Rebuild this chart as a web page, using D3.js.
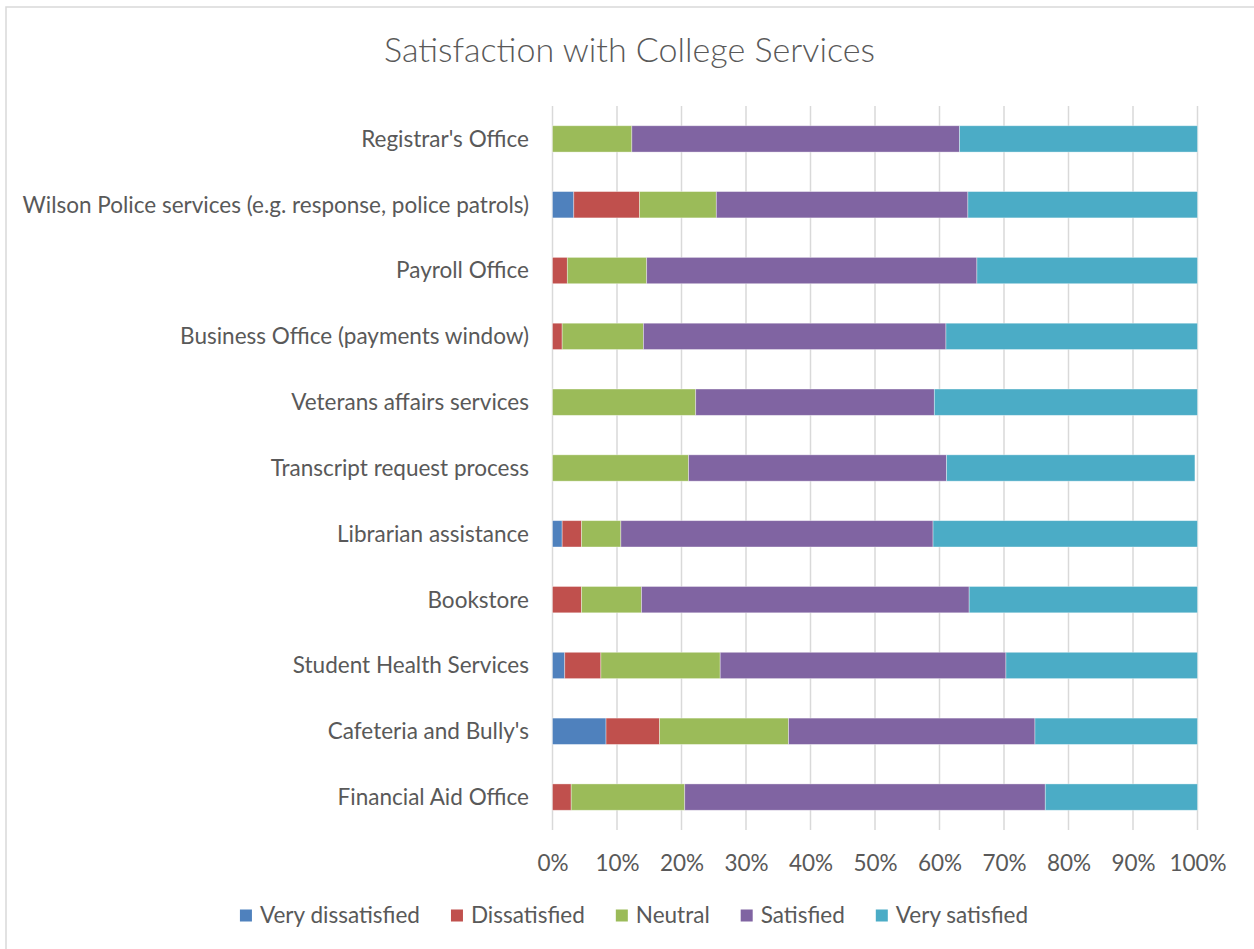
<!DOCTYPE html>
<html>
<head>
<meta charset="utf-8">
<script src="https://cdn.jsdelivr.net/npm/d3@7"></script>
<style>
  html, body { margin: 0; padding: 0; background: #fff; }
  svg { display: block; }
  text { font-family: Lato, "Open Sans", sans-serif; fill: #595959; }
</style>
</head>
<body>
<svg id="chart" width="1254" height="949"></svg>
<script>
const categories = [
  "Registrar's Office",
  "Wilson Police services (e.g. response, police patrols)",
  "Payroll Office",
  "Business Office (payments window)",
  "Veterans affairs services",
  "Transcript request process",
  "Librarian assistance",
  "Bookstore",
  "Student Health Services",
  "Cafeteria and Bully's",
  "Financial Aid Office"
];
const seriesNames = ["Very dissatisfied", "Dissatisfied", "Neutral", "Satisfied", "Very satisfied"];
const veryDissatisfied = [0, 3.3, 0, 0, 0, 0, 1.5, 0, 1.9, 8.3, 0];
const dissatisfied     = [0, 10.2, 2.3, 1.5, 0, 0, 3.0, 4.5, 5.6, 8.3, 2.9];
const neutral          = [12.3, 11.9, 12.3, 12.6, 22.2, 21.1, 6.1, 9.3, 18.5, 20.0, 17.6];
const satisfied        = [50.8, 39.0, 51.2, 46.9, 37.0, 40.0, 48.4, 50.8, 44.3, 38.2, 55.9];
const verySatisfied    = [36.9, 35.6, 34.2, 39.0, 40.8, 38.5, 41.0, 35.4, 29.7, 25.2, 23.6];
const tickValues = [0, 0.1, 0.2, 0.3, 0.4, 0.5, 0.6, 0.7, 0.8, 0.9, 1.0];
const colors = ["#4F81BD", "#C0504D", "#9BBB59", "#8064A2", "#4BACC6"];
const title = "Satisfaction with College Services";

const seriesValues = [veryDissatisfied, dissatisfied, neutral, satisfied, verySatisfied];
const rows = categories.map((c, i) => {
  const r = { category: c };
  seriesNames.forEach((s, j) => { r[s] = seriesValues[j][i] / 100; });
  return r;
});

const svg = d3.select("#chart");

// chart frame
svg.append("rect")
  .attr("x", 6).attr("y", 7).attr("width", 1260).attr("height", 960)
  .attr("fill", "#fff").attr("stroke", "#d9d9d9").attr("stroke-width", 1.5);

// font fitting (Calibri substitute): match widths seen in the reference
function fitSize(str, base, target) {
  const p = svg.append("text").attr("font-size", base).text(str);
  const w = p.node().getComputedTextLength();
  p.remove();
  return base * target / w;
}
const fs = fitSize(categories[1], 24, 507);
const titleFs = fitSize(title, 32, 501);

const x = d3.scaleLinear().domain([0, 1]).range([552.5, 1197.5]);
const y = d3.scaleBand().domain(categories).range([106, 830])
  .paddingInner(0.6).paddingOuter(0.3);

// gridlines
svg.append("g")
  .selectAll("line").data(tickValues).join("line")
  .attr("x1", d => x(d)).attr("x2", d => x(d))
  .attr("y1", 106).attr("y2", 830)
  .attr("stroke", "#d9d9d9").attr("stroke-width", 1.5);

// bars
const stack = d3.stack().keys(seriesNames);
const stacked = stack(rows);
svg.append("g")
  .selectAll("g").data(stacked).join("g")
  .attr("fill", (d, i) => colors[i])
  .selectAll("rect").data(d => d).join("rect")
  .filter(d => d[1] - d[0] > 0)
  .attr("x", d => x(d[0]))
  .attr("y", d => y(d.data.category))
  .attr("width", d => x(d[1]) - x(d[0]))
  .attr("height", y.bandwidth())
  .attr("stroke", "#fff").attr("stroke-opacity", 0.45).attr("stroke-width", 0.8);

// category labels (axis without lines)
const yAxis = svg.append("g")
  .attr("transform", `translate(${x(0) - 23.5},0)`)
  .call(d3.axisLeft(y).tickSize(0).tickPadding(0));
yAxis.select(".domain").remove();
yAxis.selectAll("text")
  .attr("font-size", fs).attr("font-family", null)
  .attr("fill", "#595959").attr("dy", "0.35em");

// x axis tick labels
const xAxis = svg.append("g")
  .attr("transform", `translate(0,863)`)
  .call(d3.axisBottom(x).tickValues(tickValues).tickFormat(d3.format(".0%")).tickSize(0).tickPadding(0));
xAxis.select(".domain").remove();
xAxis.selectAll("text")
  .attr("font-size", fs).attr("font-family", null)
  .attr("fill", "#595959").attr("dy", "0.35em");

// title
svg.append("text")
  .attr("x", 629.5).attr("y", 50).attr("dy", "0.35em")
  .attr("text-anchor", "middle")
  .attr("font-size", titleFs)
  .attr("font-weight", 300)
  .text(title);

// legend
const legend = svg.append("g");
const items = legend.selectAll("g").data(seriesNames).join("g");
items.append("rect")
  .attr("width", 12).attr("height", 12).attr("y", -6)
  .attr("fill", (d, i) => colors[i]);
items.append("text")
  .attr("x", 20).attr("dy", "0.35em")
  .attr("font-size", fs)
  .text(d => d);
let cursor = 0;
items.each(function() {
  const g = d3.select(this);
  g.attr("transform", `translate(${cursor},0)`);
  cursor += 20 + g.select("text").node().getComputedTextLength() + 31;
});
const total = cursor - 31;
legend.attr("transform", `translate(${634 - total / 2},915.5)`);
</script>
</body>
</html>
